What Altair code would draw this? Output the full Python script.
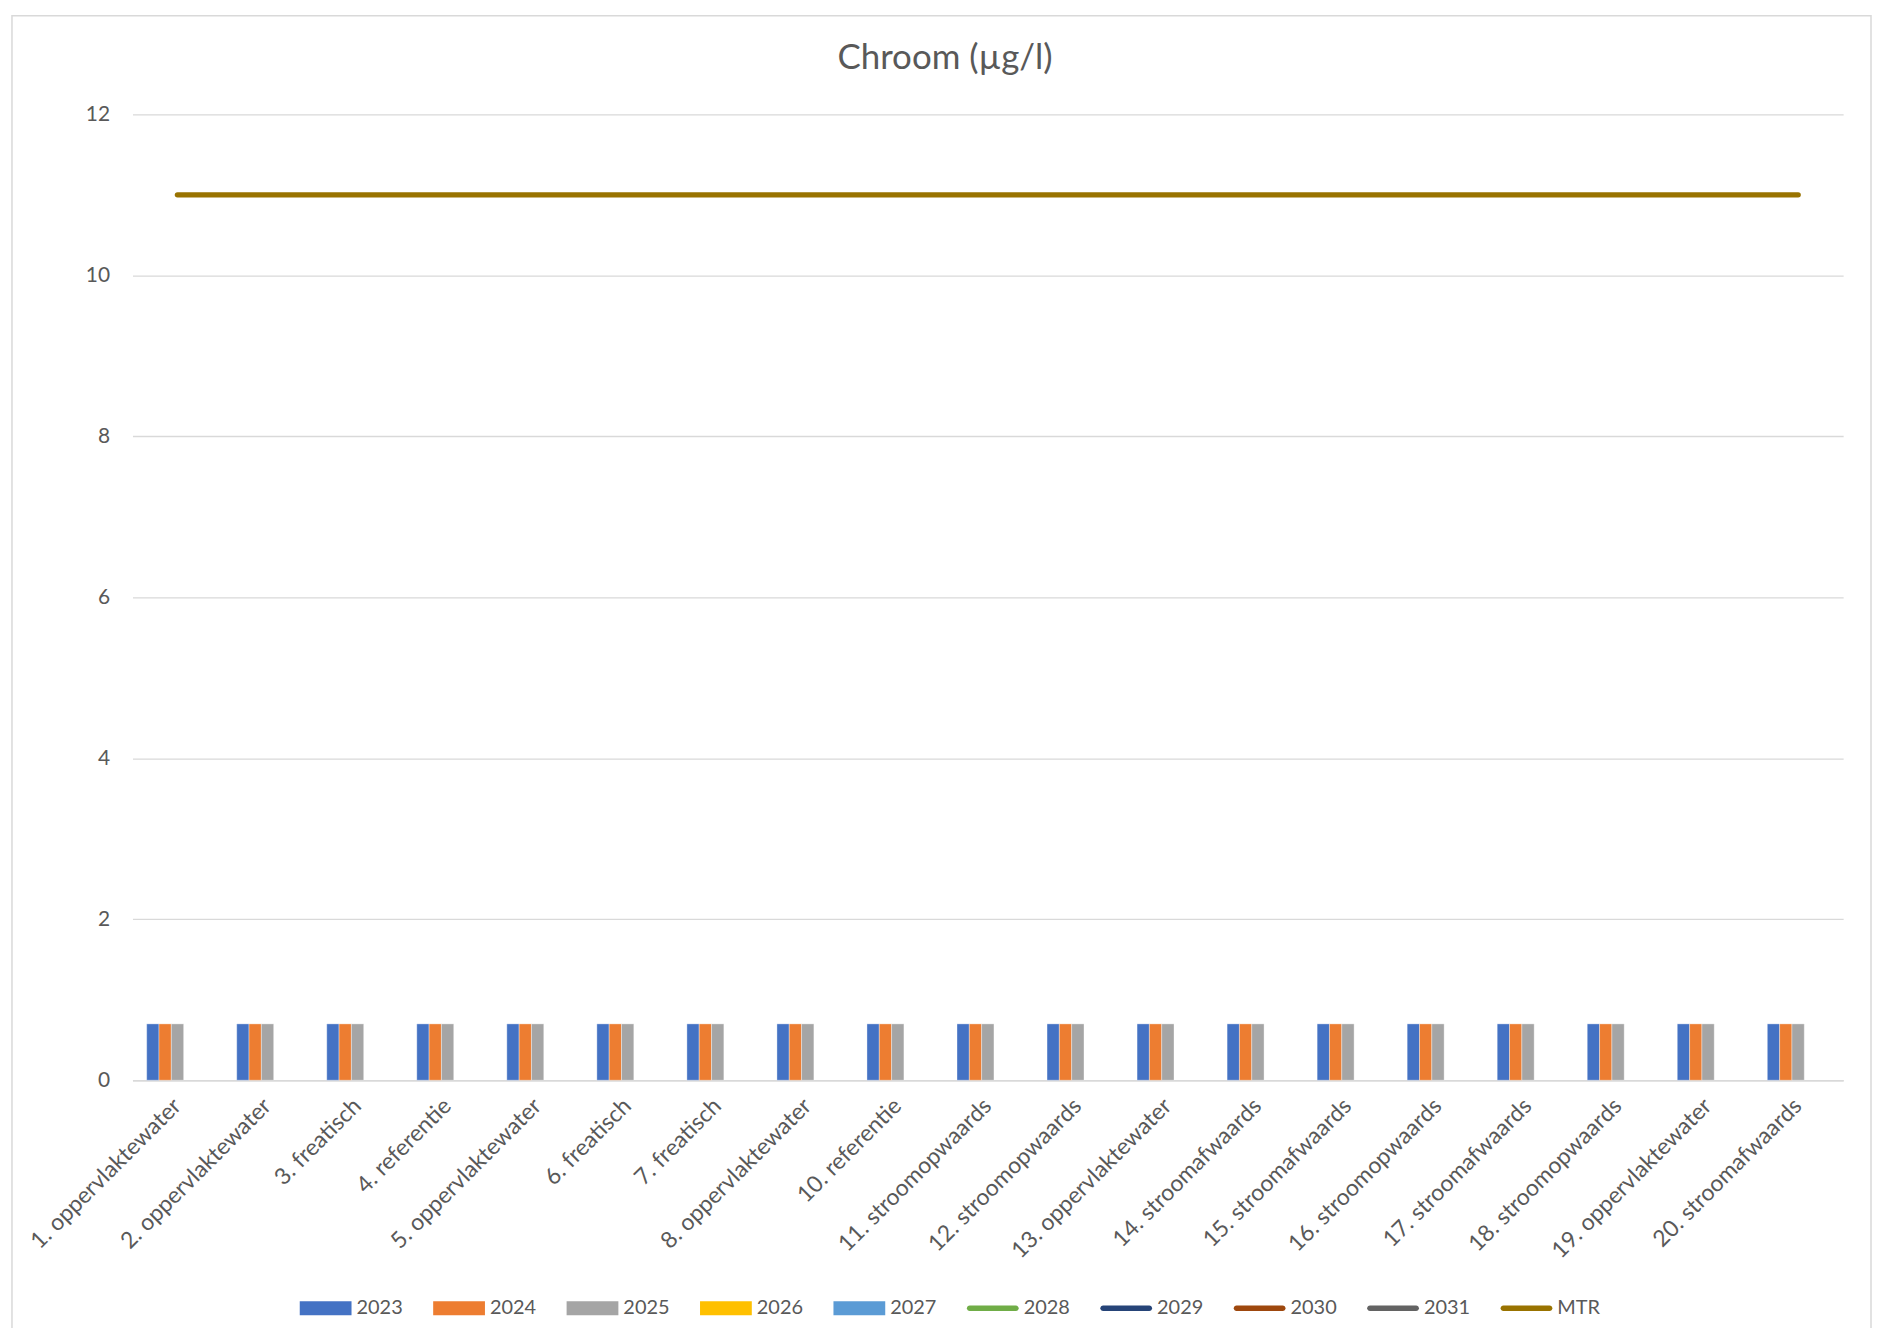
import altair as alt
import pandas as pd

# ---- data ----
categories = [
    "1. oppervlaktewater", "2. oppervlaktewater", "3. freatisch", "4. referentie",
    "5. oppervlaktewater", "6. freatisch", "7. freatisch", "8. oppervlaktewater",
    "10. referentie", "11. stroomopwaards", "12. stroomopwaards", "13. oppervlaktewater",
    "14. stroomafwaards", "15. stroomafwaards", "16. stroomopwaards", "17. stroomafwaards",
    "18. stroomopwaards", "19. oppervlaktewater", "20. stroomafwaards",
]
bar_series = ["2023", "2024", "2025", "2026", "2027"]
values_2023 = [0.7] * 19
values_2024 = [0.7] * 19
values_2025 = [0.7] * 19
values_2026 = [None] * 19
values_2027 = [None] * 19
line_series = ["2028", "2029", "2030", "2031", "MTR"]
values_mtr = [11] * 19

all_series = bar_series + line_series
series_colors = ["#4472C4", "#ED7D31", "#A5A5A5", "#FFC000", "#5B9BD5",
                 "#70AD47", "#264478", "#9E480E", "#636363", "#997300"]

RECT = "M-1,-0.27H1V0.27H-1Z"
LINE = "M-0.89,-0.11H0.89A0.11,0.11 0 0 1 0.89,0.11H-0.89A0.11,0.11 0 0 1 -0.89,-0.11Z"
series_shapes = [RECT] * 5 + [LINE] * 5

GRAY = "#595959"
GRID = "#D9D9D9"
FONT = "Lato"
W, H = 1718, 970

# ---- tables ----
rows = []
for s, vals in zip(bar_series, [values_2023, values_2024, values_2025, values_2026, values_2027]):
    for c, v in zip(categories, vals):
        if v is not None:
            rows.append({"cat": c, "series": s, "value": v})
bars_df = pd.DataFrame(rows)
mtr_df = pd.DataFrame({"cat": categories, "series": "MTR", "value": values_mtr})
legend_df = pd.DataFrame({"cat": categories[0], "series": all_series, "value": 0})
frame_df = pd.DataFrame({"k": [0]})

color_scale = alt.Scale(domain=all_series, range=series_colors)
shape_scale = alt.Scale(domain=all_series, range=series_shapes)
x_scale = alt.Scale(domain=categories, paddingInner=0.316, paddingOuter=0.158)
y_scale = alt.Scale(domain=[0, 12])

x_axis = alt.Axis(labelAngle=-45, labelAlign="right", labelBaseline="middle",
                  labelPadding=22, ticks=False, domainColor=GRID, domainWidth=1.6,
                  labelFontSize=23, labelColor=GRAY, labelFont=FONT, grid=False,
                  labelOverlap=False, labelLimit=1000)
y_axis = alt.Axis(values=[0, 2, 4, 6, 8, 10, 12], format="d", domain=False, ticks=False,
                  labelPadding=23, labelFontSize=21, labelColor=GRAY, labelFont=FONT,
                  gridColor=GRID, gridWidth=1.3)

leg = alt.Legend(orient="none", direction="horizontal", legendX=168, legendY=1173,
                 symbolSize=2704, symbolStrokeWidth=0, labelOffset=5, title=None,
                 columnPadding=30, labelFontSize=20, labelColor=GRAY,
                 labelFont=FONT, padding=0, symbolOpacity=1)

# invisible layer (no rows survive the filter) that only carries the legend
legend_layer = alt.Chart(legend_df).transform_filter("false").mark_point(filled=True, opacity=1).encode(
    x=alt.X("cat:N", scale=x_scale, sort=categories, title=None, axis=x_axis),
    y=alt.Y("value:Q", scale=y_scale, title=None, axis=y_axis),
    color=alt.Color("series:N", scale=color_scale, title=None, legend=leg),
    shape=alt.Shape("series:N", scale=shape_scale, title=None, legend=leg),
)

bars = alt.Chart(bars_df).mark_bar(stroke="white", strokeWidth=0.6, strokeOpacity=0.6).encode(
    x=alt.X("cat:N", scale=x_scale, sort=categories, title=None, axis=x_axis),
    y=alt.Y("value:Q", scale=y_scale, title=None, axis=y_axis),
    xOffset=alt.XOffset("series:N", scale=alt.Scale(domain=bar_series, paddingInner=0, paddingOuter=0)),
    color=alt.Color("series:N", scale=color_scale, legend=None),
)

mtr = alt.Chart(mtr_df).mark_line(strokeWidth=5.5, strokeCap="round").encode(
    x=alt.X("cat:N", scale=x_scale, sort=categories),
    y=alt.Y("value:Q", scale=y_scale),
    color=alt.Color("series:N", scale=color_scale, legend=None),
)

frame = alt.Chart(frame_df).mark_rect(fill="white", fillOpacity=0, stroke=GRID, strokeWidth=1.5).encode(
    x=alt.value(-121), x2=alt.value(W + 28), y=alt.value(-99), y2=alt.value(H + 400),
)

chart = alt.layer(legend_layer, frame, bars, mtr).properties(
    width=W, height=H,
    autosize=alt.AutoSizeParams(type="none"),
    padding={"left": 125, "top": 104, "right": 29, "bottom": 246},
    title=alt.TitleParams("Chroom (µg/l)", fontSize=35, font=FONT, color=GRAY, fontWeight="normal",
                          anchor="middle", dx=-43, offset=-89.5, baseline="alphabetic"),
).configure_view(stroke=None).configure_axis(labelFont=FONT)

chart.save("out.html", embed_options={"renderer": "svg", "actions": False})
